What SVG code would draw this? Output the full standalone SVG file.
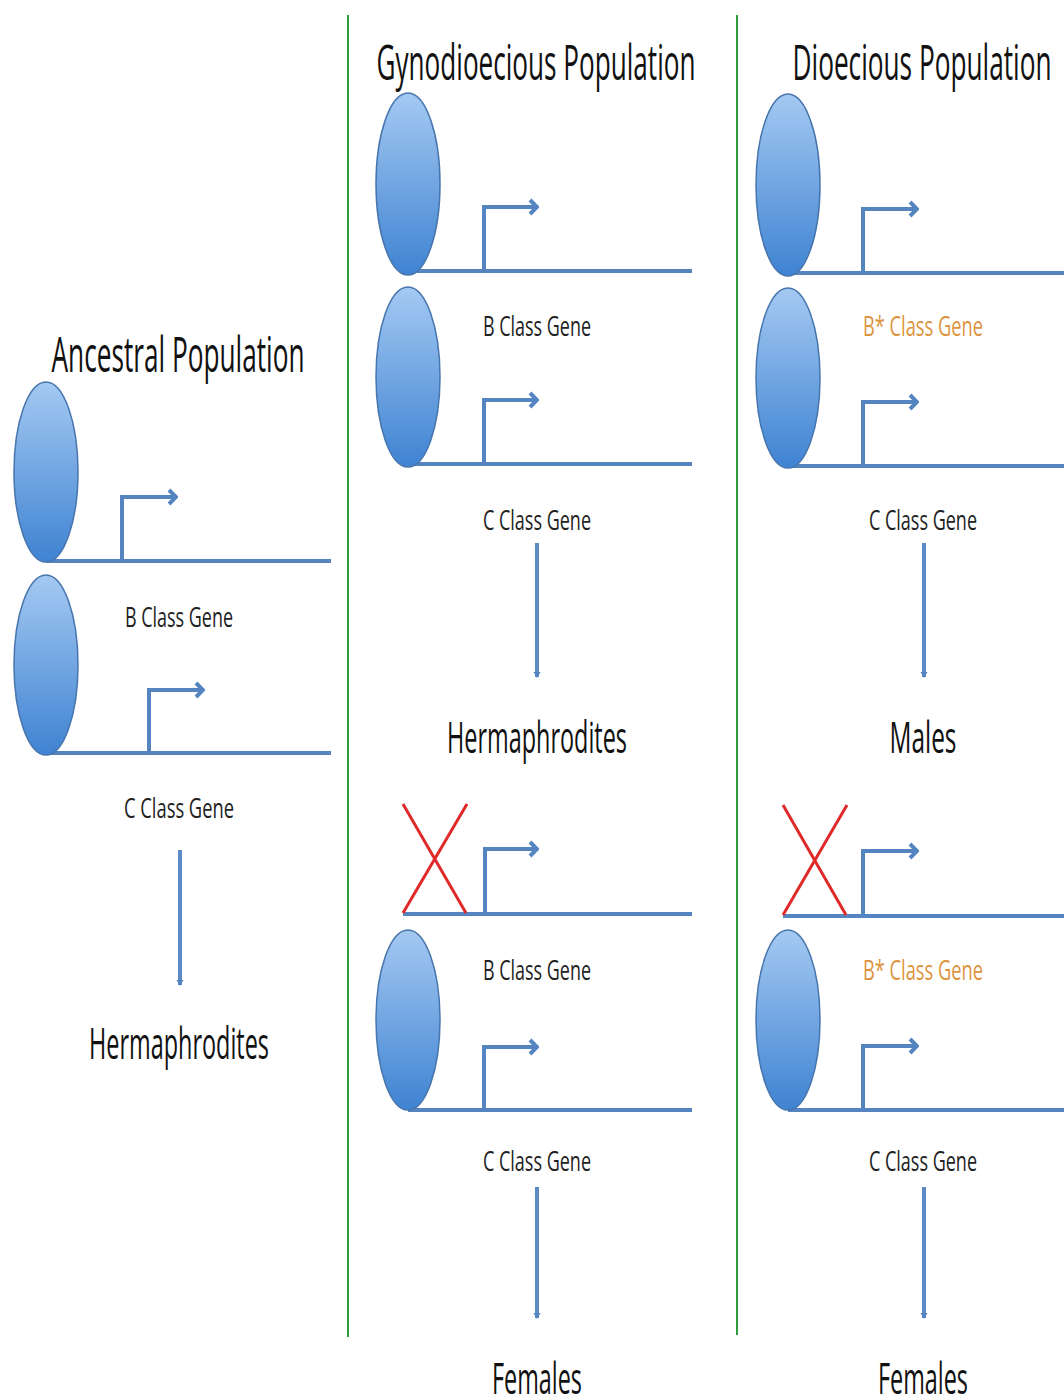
<svg xmlns="http://www.w3.org/2000/svg" width="1064" height="1396" viewBox="0 0 1064 1396">
<defs>
<linearGradient id="cellGrad" x1="0" y1="0" x2="0" y2="1">
<stop offset="0" stop-color="#a4c9f2"/>
<stop offset="1" stop-color="#3f83d2"/>
</linearGradient>
<marker id="chev" markerUnits="userSpaceOnUse" viewBox="-10 -9 12 18" refX="0" refY="0" markerWidth="12" markerHeight="18" orient="auto">
<path d="M-7,-7 L0,0 L-7,7" fill="none" stroke="#5585c0" stroke-width="4" stroke-linejoin="miter"/>
</marker>
<marker id="tip" markerUnits="userSpaceOnUse" viewBox="-6 -4 8 8" refX="0" refY="0" markerWidth="8" markerHeight="8" orient="auto">
<path d="M-5,-3.5 L1,0 L-5,3.5 Z" fill="#5585c0"/>
</marker>
</defs>
<style>
.cell{fill:url(#cellGrad);stroke:#4775ad;stroke-width:1.5}
.gene{stroke:#5585c0;stroke-width:4;fill:none}
.prom{stroke:#5585c0;stroke-width:4;fill:none;marker-end:url(#chev)}
.flow{stroke:#5b8ac4;stroke-width:4;fill:none;marker-end:url(#tip)}
.div{stroke:#2e9a3a;stroke-width:2}
.x{stroke:#e02a2a;stroke-width:3}
text{font-family:"Open Sans","Liberation Sans",sans-serif;fill:#111;text-anchor:middle}
.title{font-size:50px}
.big{font-size:44px}
.small{font-size:28px;fill:#222}
.bstar{font-size:28px;fill:#dd9440}
</style>
<rect width="1064" height="1396" fill="#fff"/>
<g id="dividers">
<line class="div" x1="348" y1="15" x2="348" y2="1337"/>
<line class="div" x1="737" y1="15" x2="737" y2="1335"/>
</g>
<g id="connectors">
<line class="flow" x1="180" y1="850" x2="180" y2="985"/>
<line class="flow" x1="537" y1="543" x2="537" y2="677"/>
<line class="flow" x1="537" y1="1187" x2="537" y2="1318"/>
<line class="flow" x1="924" y1="543" x2="924" y2="677"/>
<line class="flow" x1="924" y1="1187" x2="924" y2="1318"/>
</g>
<g id="ancestral">
<text class="title" x="178" y="372" textLength="253" lengthAdjust="spacingAndGlyphs">Ancestral Population</text>
<g id="anc-b">
<line class="gene" x1="46" y1="561" x2="331" y2="561"/>
<ellipse class="cell" cx="46" cy="472" rx="32" ry="90"/>
<path class="prom" d="M122 561 V497 H176"/>
<text class="small" x="179" y="627" textLength="108" lengthAdjust="spacingAndGlyphs">B Class Gene</text>
</g>
<g id="anc-c">
<line class="gene" x1="46" y1="753" x2="331" y2="753"/>
<ellipse class="cell" cx="46" cy="665" rx="32" ry="90"/>
<path class="prom" d="M149 753 V690 H203"/>
<text class="small" x="179" y="818" textLength="110" lengthAdjust="spacingAndGlyphs">C Class Gene</text>
</g>
<text class="big" x="179" y="1059" textLength="180" lengthAdjust="spacingAndGlyphs">Hermaphrodites</text>
</g>
<g id="gynodioecious">
<text class="title" x="536" y="80" textLength="319" lengthAdjust="spacingAndGlyphs">Gynodioecious Population</text>
<g id="gyn-b1">
<line class="gene" x1="408" y1="271" x2="692" y2="271"/>
<ellipse class="cell" cx="408" cy="184" rx="32" ry="91"/>
<path class="prom" d="M484 271 V207 H537"/>
<text class="small" x="537" y="336" textLength="108" lengthAdjust="spacingAndGlyphs">B Class Gene</text>
</g>
<g id="gyn-c1">
<line class="gene" x1="408" y1="464" x2="692" y2="464"/>
<ellipse class="cell" cx="408" cy="377" rx="32" ry="90"/>
<path class="prom" d="M484 464 V400 H537"/>
<text class="small" x="537" y="530" textLength="108" lengthAdjust="spacingAndGlyphs">C Class Gene</text>
</g>
<text class="big" x="537" y="753" textLength="180" lengthAdjust="spacingAndGlyphs">Hermaphrodites</text>
<g id="gyn-b2">
<line class="gene" x1="403" y1="914" x2="692" y2="914"/>
<line class="x" x1="403" y1="804" x2="466" y2="913"/>
<line class="x" x1="467" y1="804" x2="403" y2="913"/>
<path class="prom" d="M485 914 V849 H537"/>
<text class="small" x="537" y="980" textLength="108" lengthAdjust="spacingAndGlyphs">B Class Gene</text>
</g>
<g id="gyn-c2">
<line class="gene" x1="408" y1="1110" x2="692" y2="1110"/>
<ellipse class="cell" cx="408" cy="1020" rx="32" ry="90"/>
<path class="prom" d="M484 1110 V1047 H537"/>
<text class="small" x="537" y="1171" textLength="108" lengthAdjust="spacingAndGlyphs">C Class Gene</text>
</g>
<text class="big" x="537" y="1394" textLength="90" lengthAdjust="spacingAndGlyphs">Females</text>
</g>
<g id="dioecious">
<text class="title" x="922" y="80" textLength="259" lengthAdjust="spacingAndGlyphs">Dioecious Population</text>
<g id="dio-b1">
<line class="gene" x1="788" y1="273" x2="1064" y2="273"/>
<ellipse class="cell" cx="788" cy="185" rx="32" ry="91"/>
<path class="prom" d="M863 273 V209 H917"/>
<text class="bstar" x="923" y="336" textLength="120" lengthAdjust="spacingAndGlyphs">B* Class Gene</text>
</g>
<g id="dio-c1">
<line class="gene" x1="788" y1="466" x2="1064" y2="466"/>
<ellipse class="cell" cx="788" cy="378" rx="32" ry="90"/>
<path class="prom" d="M863 466 V402 H917"/>
<text class="small" x="923" y="530" textLength="108" lengthAdjust="spacingAndGlyphs">C Class Gene</text>
</g>
<text class="big" x="923" y="753" textLength="67" lengthAdjust="spacingAndGlyphs">Males</text>
<g id="dio-b2">
<line class="gene" x1="783" y1="916" x2="1064" y2="916"/>
<line class="x" x1="783" y1="805" x2="846" y2="915"/>
<line class="x" x1="847" y1="805" x2="783" y2="915"/>
<path class="prom" d="M863 916 V851 H917"/>
<text class="bstar" x="923" y="980" textLength="120" lengthAdjust="spacingAndGlyphs">B* Class Gene</text>
</g>
<g id="dio-c2">
<line class="gene" x1="788" y1="1110" x2="1064" y2="1110"/>
<ellipse class="cell" cx="788" cy="1020" rx="32" ry="90"/>
<path class="prom" d="M863 1110 V1046 H917"/>
<text class="small" x="923" y="1171" textLength="108" lengthAdjust="spacingAndGlyphs">C Class Gene</text>
</g>
<text class="big" x="923" y="1394" textLength="90" lengthAdjust="spacingAndGlyphs">Females</text>
</g>
</svg>
